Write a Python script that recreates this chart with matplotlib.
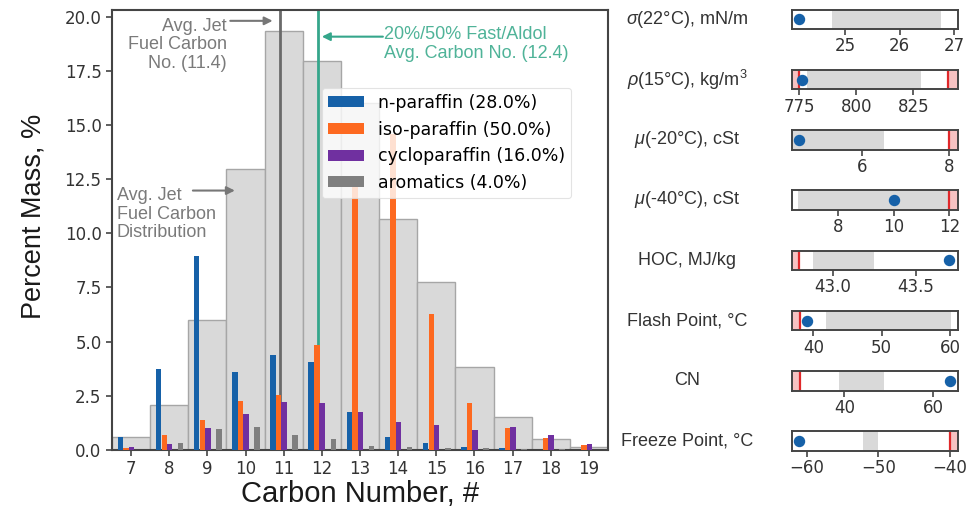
import numpy as np
import matplotlib
matplotlib.use("Agg")
import matplotlib.pyplot as plt

plt.rcParams['mathtext.fontset'] = 'custom'
plt.rcParams['mathtext.rm'] = 'Liberation Sans'
plt.rcParams['mathtext.it'] = 'Liberation Sans:italic'
plt.rcParams['font.family'] = ['DejaVu Sans']

# ---------------- data ----------------
carbon = [7, 8, 9, 10, 11, 12, 13, 14, 15, 16, 17, 18, 19]
jet_dist = [0.6, 2.09, 6.0, 12.97, 19.33, 17.95, 16.0, 10.66, 7.74, 3.85, 1.54, 0.49, 0.12]
n_paraffin = [0.62, 3.72, 8.97, 3.61, 4.37, 4.08, 1.77, 0.62, 0.31, 0.15, 0.08, 0.0, 0.0]
iso_paraffin = [0.07, 0.69, 1.38, 2.28, 2.54, 4.85, 12.6, 14.6, 6.28, 2.18, 1.03, 0.54, 0.23]
cycloparaffin = [0.15, 0.26, 1.0, 1.65, 2.23, 2.15, 1.77, 1.28, 1.17, 0.92, 1.08, 0.69, 0.29]
aromatics = [0.0, 0.34, 0.95, 1.05, 0.71, 0.49, 0.2, 0.15, 0.08, 0.08, 0.05, 0.03, 0.0]
series_labels = ['n-paraffin (28.0%)', 'iso-paraffin (50.0%)',
                 'cycloparaffin (16.0%)', 'aromatics (4.0%)']
jet_avg_carbon = 11.4
blend_avg_carbon = 12.4

prop_labels = [r'$\sigma$(22°C), mN/m', r'$\rho$(15°C), kg/m$^3$', r'$\mu$(-20°C), cSt',
               r'$\mu$(-40°C), cSt', 'HOC, MJ/kg', 'Flash Point, °C', 'CN',
               'Freeze Point, °C']
prop_value = [24.16, 776.3, 4.58, 10.0, 43.70, 39.1, 63.8, -61.03]
prop_band_lo = [24.77, 778.2, 4.41, 6.56, 42.88, 41.85, 38.8, -52.1]
prop_band_hi = [26.76, 828.2, 6.51, 12.0, 43.25, 60.1, 48.9, -50.0]
prop_spec_min = [None, 775, None, None, 42.8, 38, 30, None]
prop_spec_max = [None, 840, 8, 12, None, None, None, -40]
prop_xmin = [24.03, 771.8, 4.41, 6.33, 42.756, 36.88, 28.25, -62.05]
prop_xmax = [27.07, 844.6, 8.2, 12.31, 43.752, 61.17, 65.55, -38.88]
prop_ticks = [[25, 26, 27], [775, 800, 825], [6, 8], [8, 10, 12], [43.0, 43.5],
              [40, 50, 60], [40, 60], [-60, -50, -40]]
prop_tickfmt = ['{:g}', '{:g}', '{:g}', '{:g}', '{:.1f}', '{:g}', '{:g}', '{:g}']

# ---------------- style ----------------
c_blue = '#1661a8'
c_orange = '#fd6920'
c_purple = '#7030a0'
c_gray = '#7f7f7f'
c_teal = '#35a68b'
c_spine = '#444444'
series_colors = [c_blue, c_orange, c_purple, c_gray]
offsets = [-0.28, -0.13, 0.01, 0.30]
bw = 0.145
label_font = 'Liberation Sans'

W, H = 979, 512
fig = plt.figure(figsize=(W / 100, H / 100), dpi=100)

ax = fig.add_axes([112 / W, 1 - 450 / H, (608 - 112) / W, (450 - 10) / H])
x = np.array(carbon, dtype=float)
ax.bar(x, jet_dist, width=1.0, color='#d9d9d9', edgecolor='#a6a6a6', linewidth=1.0, zorder=1)
ax.axvline(jet_avg_carbon - 0.5, color='#6a6a6a', lw=2, zorder=2)
ax.axvline(blend_avg_carbon - 0.5, color=c_teal, lw=2, zorder=2)
handles = []
for vals, col, off in zip([n_paraffin, iso_paraffin, cycloparaffin, aromatics], series_colors, offsets):
    h = ax.bar(x + off, vals, width=bw, color=col, zorder=3)
    handles.append(h)

ax.set_xlim(6.5, 19.5)
ax.set_ylim(0, 20.3)
ax.set_xticks(carbon)
ax.set_yticks(np.arange(0, 20.01, 2.5))
ax.set_yticklabels(['{:.1f}'.format(v) for v in np.arange(0, 20.01, 2.5)])
ax.tick_params(labelsize=12, length=4, width=1.2, color=c_spine, labelcolor='#333333')
for s in ax.spines.values():
    s.set_color(c_spine)
    s.set_linewidth(1.5)
ax.set_xlabel('Carbon Number, #', fontsize=21, family=label_font, color='#1a1a1a', labelpad=1)
ax.set_ylabel('Percent Mass, %', fontsize=19.5, family=label_font, color='#1a1a1a')
ax.yaxis.set_label_coords(-0.133, 0.53)

leg = ax.legend(handles, series_labels, loc='upper left', bbox_to_anchor=(0.423, 0.823),
                fontsize=12.5, framealpha=0.8, edgecolor='#dddddd', borderaxespad=0,
                handlelength=2.1, handleheight=0.6, labelspacing=0.5, borderpad=0.35)
leg.get_frame().set_linewidth(0.8)

# annotations
akw = dict(arrowstyle='-|>', color='#777777', lw=1.5, mutation_scale=12, shrinkA=0, shrinkB=0)
ax.text(9.51, 19.95, 'Avg. Jet\nFuel Carbon\nNo. ({:.1f})'.format(jet_avg_carbon), ha='right', va='top',
        multialignment='right', fontsize=13, family=label_font, color='#7a7a7a', linespacing=1.12, zorder=5)
ax.annotate('', xy=(10.71, 19.8), xytext=(9.6, 19.8), arrowprops=akw, zorder=5)
ax.text(6.63, 12.12, 'Avg. Jet\nFuel Carbon\nDistribution', ha='left', va='top',
        fontsize=13, family=label_font, color='#7a7a7a', linespacing=1.12, zorder=5)
ax.annotate('', xy=(9.72, 11.97), xytext=(8.62, 11.97), arrowprops=akw, zorder=5)
tkw = dict(akw)
tkw['color'] = c_teal
ax.text(13.64, 19.55, '20%/50% Fast/Aldol\nAvg. Carbon No. ({:.1f})'.format(blend_avg_carbon), ha='left', va='top',
        fontsize=13, family=label_font, color='#4fb398', linespacing=1.12, zorder=5)
ax.annotate('', xy=(12.0, 19.07), xytext=(13.6, 19.07), arrowprops=tkw, zorder=5)

# ---------------- property panels ----------------
pl, pr = 792, 958
ph = 19.5
for i in range(len(prop_labels)):
    top = 9.5 + 60.25 * i
    pax = fig.add_axes([pl / W, 1 - (top + ph) / H, (pr - pl) / W, ph / H])
    x0, x1 = prop_xmin[i], prop_xmax[i]
    pax.set_xlim(x0, x1)
    pax.set_ylim(0, 1)
    pax.axvspan(prop_band_lo[i], prop_band_hi[i], color='#d9d9d9', lw=0, zorder=1)
    if prop_spec_min[i] is not None:
        pax.axvspan(x0, prop_spec_min[i], color='#f6b3b3', alpha=0.8, lw=0, zorder=1)
        pax.axvline(prop_spec_min[i], color='#e0282a', lw=1.6, zorder=2)
    if prop_spec_max[i] is not None:
        pax.axvspan(prop_spec_max[i], x1, color='#f6b3b3', alpha=0.8, lw=0, zorder=1)
        pax.axvline(prop_spec_max[i], color='#e0282a', lw=1.6, zorder=2)
    pax.plot([prop_value[i]], [0.5], 'o', color=c_blue, markersize=7.2, zorder=4, clip_on=False)
    pax.set_yticks([])
    pax.set_xticks(prop_ticks[i])
    pax.set_xticklabels([prop_tickfmt[i].format(t).replace('-', '\u2212') for t in prop_ticks[i]])
    pax.tick_params(labelsize=12, length=4, width=1.2, color=c_spine, labelcolor='#333333', pad=2)
    for s in pax.spines.values():
        s.set_color(c_spine)
        s.set_linewidth(1.4)
    fig.text(687 / W, 1 - (top + ph / 2) / H, prop_labels[i], ha='center', va='center',
             fontsize=13, family=label_font, color='#333333')

fig.savefig('out.png', dpi=100)
